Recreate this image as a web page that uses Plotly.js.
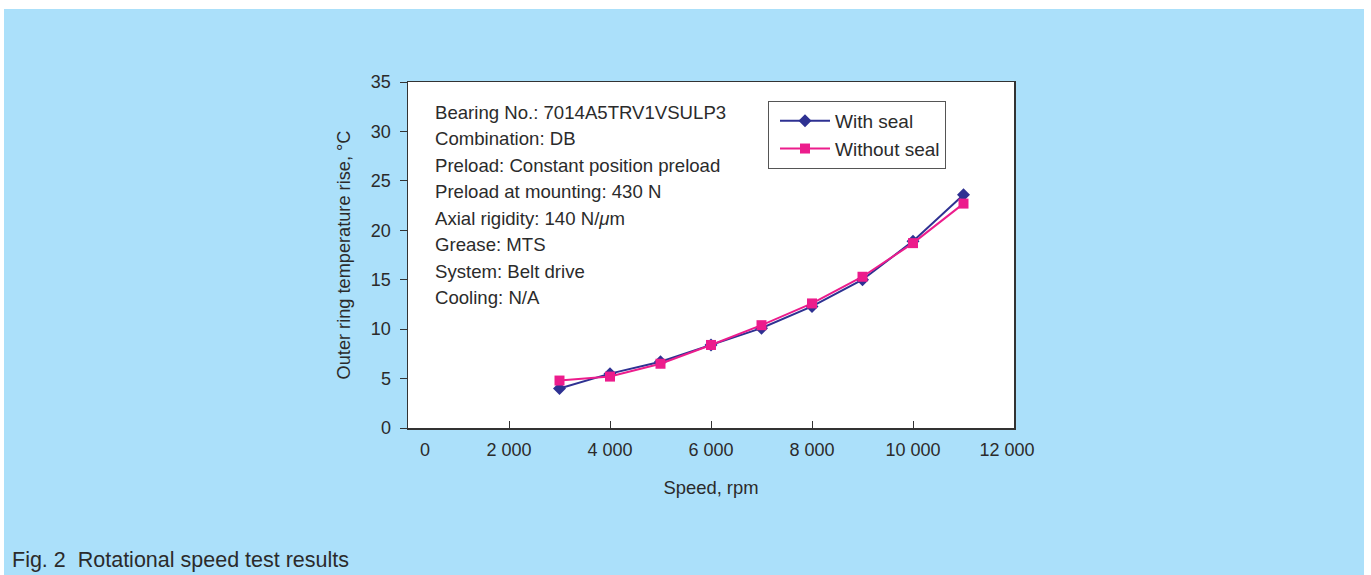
<!DOCTYPE html>
<html>
<head>
<meta charset="utf-8">
<script src="https://cdn.plot.ly/plotly-3.0.1.min.js"></script>
<style>
  html, body { margin: 0; padding: 0; background: #ffffff; }
  #bg { position: absolute; left: 4px; top: 9px; width: 1360px; height: 566px; background: #ABE0FA; }
  #chart { position: absolute; left: 0; top: 0; width: 1371px; height: 575px; }
</style>
</head>
<body>
<div id="bg"></div>
<div id="chart"></div>
<script>
// ---- data ----
const speeds = [3000, 4000, 5000, 6000, 7000, 8000, 9000, 10000, 11000];
const withSeal = [4.0, 5.5, 6.7, 8.4, 10.1, 12.3, 15.0, 18.9, 23.6];
const withoutSeal = [4.8, 5.2, 6.5, 8.4, 10.4, 12.6, 15.3, 18.7, 22.7];
const seriesNames = ["With seal", "Without seal"];
const xTickValues = [0, 2000, 4000, 6000, 8000, 10000, 12000];
const xTickLabels = ["0", "2 000", "4 000", "6 000", "8 000", "10 000", "12 000"];
const yTickValues = [0, 5, 10, 15, 20, 25, 30, 35];
const infoLines = [
  "Bearing No.: 7014A5TRV1VSULP3",
  "Combination: DB",
  "Preload: Constant position preload",
  "Preload at mounting: 430 N",
  "Axial rigidity: 140 N/<i>\u03bc</i>m",
  "Grease: MTS",
  "System: Belt drive",
  "Cooling: N/A"
];
const xTitle = "Speed, rpm";
const yTitle = "Outer ring temperature rise, \u00b0C";
const caption = "Fig. 2\u00a0 Rotational speed test results";

// ---- layout geometry (pixels) ----
const W = 1371, H = 575;
const plotL = 408, plotR = 1014, plotT = 82, plotB = 428.5;
const pw = plotR - plotL, ph = plotB - plotT;
const px2x = p => (p - plotL) / pw;
const py2y = p => (plotB - p) / ph;

const FONT = "Liberation Sans, Arial, Helvetica, sans-serif";
const TXT = "#2b2b2b";
const AX = "#333333";
const BLUE = "#2E3192";
const PINK = "#EC1C8C";

// end tick labels sit slightly inside the frame in the reference
const xRange = [0, 12000];
const unitPerPx = (xRange[1] - xRange[0]) / pw;
const labelPos = xTickValues.map((v, i) =>
  i === 0 ? v + 17 * unitPerPx : (i === xTickValues.length - 1 ? v - 7 * unitPerPx : v));

const traces = [
  {
    x: speeds, y: withSeal, name: seriesNames[0], type: "scatter", mode: "lines+markers",
    line: { color: BLUE, width: 2 },
    marker: { symbol: "diamond", size: 10, color: BLUE }
  },
  {
    x: speeds, y: withoutSeal, name: seriesNames[1], type: "scatter", mode: "lines+markers",
    line: { color: PINK, width: 2 },
    marker: { symbol: "square", size: 10, color: PINK }
  }
];

const annotations = infoLines.map((t, i) => ({
  text: t, xref: "paper", yref: "paper",
  x: px2x(433), y: py2y(112.5 + i * 26.5),
  xanchor: "left", yanchor: "middle", showarrow: false,
  font: { family: FONT, size: 18.6, color: TXT }
}));
annotations.push({
  text: caption, xref: "paper", yref: "paper",
  x: px2x(10), y: py2y(561), xanchor: "left", yanchor: "middle", showarrow: false,
  font: { family: FONT, size: 21.5, color: TXT }
});

const layout = {
  width: W, height: H,
  paper_bgcolor: "rgba(0,0,0,0)",
  plot_bgcolor: "#ffffff",
  margin: { l: plotL, r: W - plotR, t: plotT, b: H - plotB, pad: 0 },
  showlegend: true,
  font: { family: FONT, size: 18, color: TXT },
  xaxis: {
    range: xRange, tickvals: xTickValues.slice(1, -1), ticks: "inside", ticklen: 7,
    tickcolor: AX, tickwidth: 1, showticklabels: false,
    showline: true, linecolor: AX, linewidth: 1.5, mirror: true,
    showgrid: false, zeroline: false
  },
  xaxis2: {
    overlaying: "x", side: "bottom", range: xRange, anchor: "y",
    tickvals: labelPos, ticktext: xTickLabels, ticks: "", ticklabelstandoff: 9,
    showline: false, showgrid: false, zeroline: false,
    tickfont: { family: FONT, size: 18, color: TXT },
    title: { text: xTitle, standoff: 22, font: { family: FONT, size: 18.4, color: TXT } }
  },
  yaxis: {
    range: [0, 35], tickvals: yTickValues, ticks: "outside", ticklen: 7,
    tickcolor: AX, tickwidth: 1, ticklabelstandoff: 5,
    showline: true, linecolor: AX, linewidth: 1.5, mirror: true,
    showgrid: false, zeroline: false,
    tickfont: { family: FONT, size: 18, color: TXT },
    title: { text: yTitle, standoff: 15, font: { family: FONT, size: 18.2, color: TXT } }
  },
  legend: {
    x: px2x(768), y: py2y(101), xanchor: "left", yanchor: "top",
    bgcolor: "#ffffff", bordercolor: "#555555", borderwidth: 1,
    font: { family: FONT, size: 19, color: TXT },
    itemwidth: 50, tracegroupgap: 0, indentation: 6
  },
  annotations: annotations
};

// dummy trace to activate xaxis2 for labels
traces.push({ x: [], y: [], xaxis: "x2", showlegend: false, hoverinfo: "skip", type: "scatter" });

Plotly.newPlot("chart", traces, layout, { displayModeBar: false, staticPlot: true });
</script>
</body>
</html>
